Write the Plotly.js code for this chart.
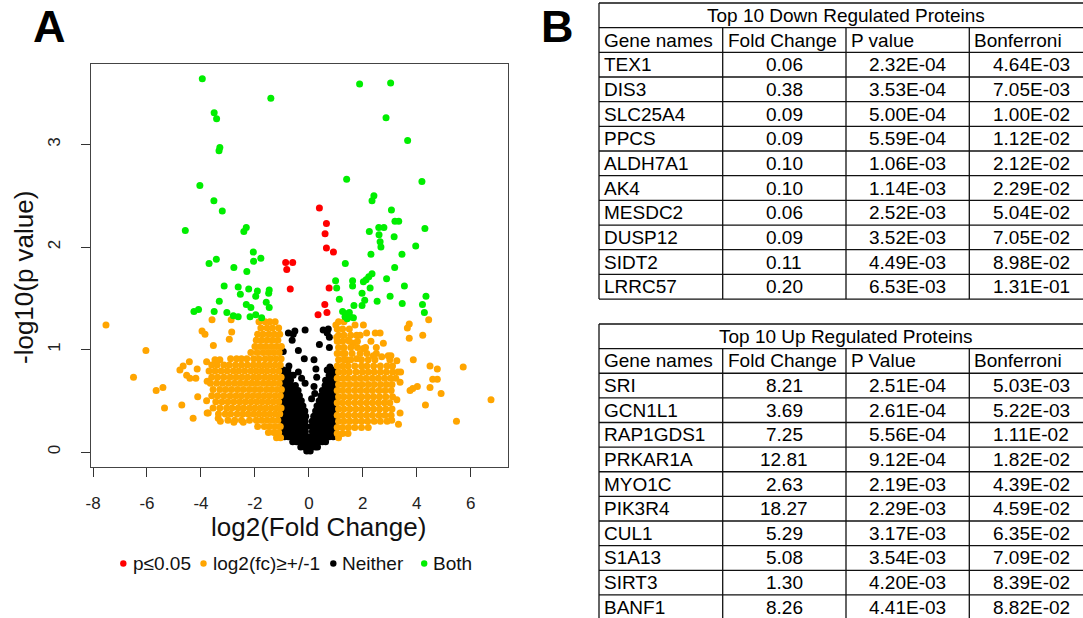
<!DOCTYPE html>
<html>
<head>
<meta charset="utf-8">
<script src="https://cdn.plot.ly/plotly-3.0.1.min.js"></script>
<style>
html,body{margin:0;padding:0;overflow:hidden;background:#fff;}
#chart{width:1100px;height:622px;}
</style>
</head>
<body>
<div id="chart"></div>
<script>
// ---------------- DATA ----------------
// "Both": p<=0.05 and |log2 fc| >= 1  (green)
const bothPts = [
[-3.95,3.64],[-1.41,3.45],[-3.51,3.31],[-3.42,3.25],[-3.30,2.97],[-3.33,2.94],[-4.04,2.60],[-3.52,2.45],[-3.21,2.35],[-4.58,2.16],[-2.32,2.19],[-2.41,2.15],[-2.06,1.95],[-3.70,1.84],[-3.43,1.88],[-2.78,1.80],[-2.05,1.86],[-1.78,1.89],[-2.30,1.76],[-3.14,1.62],[-2.62,1.61],[-2.23,1.59],[-2.54,1.54],[-1.91,1.57],[-1.97,1.52],[-1.47,1.58],[-1.49,1.55],[-3.32,1.47],[-2.32,1.44],[-2.15,1.41],[-1.58,1.46],[-1.47,1.41],[-4.26,1.37],[-4.09,1.39],[-3.51,1.37],[-3.04,1.36],[-2.80,1.33],[-2.62,1.32],[-2.18,1.32],[-1.97,1.34],[-1.75,1.31],
[1.88,3.59],[3.03,3.60],[2.86,3.26],[3.66,3.04],[1.40,2.66],[4.19,2.64],[2.41,2.50],[2.34,2.45],[3.06,2.36],[3.19,2.25],[3.33,2.25],[2.59,2.19],[2.78,2.19],[4.30,2.18],[2.24,2.15],[3.16,2.10],[2.60,2.12],[2.64,2.05],[2.67,2.00],[3.96,2.01],[2.30,1.93],[3.45,1.93],[1.35,1.84],[3.18,1.80],[2.34,1.74],[2.22,1.71],[2.12,1.68],[2.02,1.66],[2.88,1.69],[0.99,1.67],[1.03,1.60],[1.62,1.67],[1.62,1.62],[2.27,1.60],[3.54,1.62],[1.97,1.55],[2.07,1.48],[1.97,1.43],[1.13,1.49],[2.53,1.47],[3.01,1.52],[3.46,1.45],[4.34,1.52],[4.21,1.44],[4.28,1.36],[1.67,1.43],[1.25,1.37],[1.38,1.35],[1.50,1.36],[1.34,1.32],[1.52,1.32],[1.65,1.31],[1.42,1.30]
];
// "p<=0.05" only (red)
const sigPts = [
[-0.86,1.85],[-0.60,1.85],[-0.82,1.78],[-0.69,1.59],[0.39,2.38],[0.65,2.23],[0.60,2.13],[0.65,1.99],[0.91,1.95],[0.75,1.60],[0.59,1.44],[0.67,1.36],[0.34,1.34]
];
// "log2(fc) >= +/-1" only (orange)
const fcPts = [
[-7.52,1.24],[-6.04,0.99],[-6.50,0.73],[-5.66,0.60],[-5.41,0.63],[-5.35,0.43],[-4.71,0.46],[-4.29,0.33],[-4.12,0.54],[-4.43,0.88],[-4.78,0.80],[-4.66,0.84],[-4.53,0.75],[-4.41,0.72],[-4.19,0.72],[-4.14,0.81],[-3.79,0.88],[-3.77,0.69],[-3.79,0.50],[-3.77,0.38],[-3.59,1.29],[-3.96,1.18],[-3.85,1.15],[-3.54,1.04],[-2.88,1.29],[-2.86,1.17],[-2.95,1.10],[-2.68,0.91],[-3.48,0.90],[-3.36,0.33],[-3.73,0.38],[-2.78,0.29],[-2.43,0.29],[-3.28,0.30],
[-1.85,1.27],[-1.62,1.27],[-1.45,1.27],[-1.25,1.27],
[-1.78,1.21],[-1.55,1.21],[-1.35,1.21],[-1.12,1.21],
[-1.90,1.15],[-1.70,1.15],[-1.48,1.15],[-1.28,1.15],[-1.08,1.15],
[-1.95,1.09],[-1.75,1.09],[-1.55,1.09],[-1.35,1.09],[-1.15,1.09],
[-2.00,1.03],[-1.80,1.03],[-1.60,1.03],[-1.40,1.03],[-1.20,1.03],[-1.02,1.03],
[-2.15,0.97],[-1.92,0.97],[-1.70,0.97],[-1.50,0.97],[-1.30,0.97],[-1.10,0.97],
[-3.30,0.90],[-2.90,0.91],[-2.50,0.91],[-2.30,0.91],[-2.05,0.91],[-1.85,0.91],[-1.62,0.91],[-1.42,0.91],[-1.22,0.91],[-1.03,0.91],
[-3.60,0.85],[-3.40,0.85],[-3.15,0.85],[-2.95,0.85],[-2.72,0.85],[-2.50,0.85],[-2.28,0.85],[-2.06,0.85],[-1.85,0.85],[-1.65,0.85],[-1.45,0.85],[-1.25,0.85],[-1.06,0.85],
[-3.70,0.79],[-3.48,0.79],[-3.25,0.79],[-3.03,0.79],[-2.80,0.79],[-2.60,0.79],[-2.38,0.79],[-2.15,0.79],[-1.95,0.79],[-1.75,0.79],[-1.55,0.79],[-1.33,0.79],[-1.12,0.79],
[-3.60,0.73],[-3.38,0.73],[-3.15,0.73],[-2.92,0.73],[-2.70,0.73],[-2.48,0.73],[-2.27,0.73],[-2.05,0.73],[-1.85,0.73],[-1.63,0.73],[-1.43,0.73],[-1.22,0.73],[-1.03,0.73],
[-3.65,0.67],[-3.42,0.67],[-3.20,0.67],[-2.98,0.67],[-2.76,0.67],[-2.55,0.67],[-2.33,0.67],[-2.12,0.67],[-1.92,0.67],[-1.70,0.67],[-1.50,0.67],[-1.30,0.67],[-1.10,0.67],
[-3.55,0.61],[-3.30,0.61],[-3.08,0.61],[-2.86,0.61],[-2.64,0.61],[-2.43,0.61],[-2.21,0.61],[-2.00,0.61],[-1.80,0.61],[-1.58,0.61],[-1.38,0.61],[-1.18,0.61],[-1.02,0.61],
[-3.60,0.55],[-3.38,0.55],[-3.15,0.55],[-2.92,0.55],[-2.70,0.55],[-2.50,0.55],[-2.28,0.55],[-2.07,0.55],[-1.86,0.55],[-1.66,0.55],[-1.46,0.55],[-1.25,0.55],[-1.06,0.55],
[-3.45,0.49],[-3.22,0.49],[-3.00,0.49],[-2.78,0.49],[-2.56,0.49],[-2.35,0.49],[-2.14,0.49],[-1.93,0.49],[-1.73,0.49],[-1.52,0.49],[-1.32,0.49],[-1.12,0.49],
[-3.55,0.43],[-3.30,0.43],[-3.05,0.43],[-2.85,0.43],[-2.62,0.43],[-2.42,0.43],[-2.20,0.43],[-2.00,0.43],[-1.80,0.43],[-1.60,0.43],[-1.40,0.43],[-1.20,0.43],[-1.03,0.43],
[-3.35,0.37],[-3.10,0.37],[-2.90,0.37],[-2.66,0.37],[-2.45,0.37],[-2.25,0.37],[-2.05,0.37],[-1.85,0.37],[-1.65,0.37],[-1.45,0.37],[-1.25,0.37],[-1.08,0.37],
[-3.00,0.31],[-2.75,0.31],[-2.50,0.31],[-2.20,0.31],[-1.95,0.31],[-1.75,0.31],[-1.55,0.31],[-1.35,0.31],[-1.15,0.31],
[-1.90,0.25],[-1.65,0.25],[-1.45,0.25],[-1.25,0.25],[-1.06,0.25],
[-1.50,0.19],[-1.30,0.19],[-1.12,0.19],[-1.20,0.14],[-1.05,0.14],
[5.72,0.83],[6.75,0.51],[5.47,0.30],[4.49,0.84],[4.76,0.81],[4.76,0.71],[4.59,0.71],[4.49,0.63],[4.90,0.57],[4.32,0.46],[3.87,0.90],[4.02,0.64],[3.85,0.62],[3.75,0.60],[3.72,1.25],[3.65,1.21],[3.72,1.11],[4.22,1.14],[4.44,1.29],[3.26,0.89],[3.40,0.78],[3.38,0.68],[3.26,0.51],[3.38,0.38],[3.32,0.27],[3.07,0.31],[2.64,1.16],[2.76,1.06],[2.46,1.16],[2.39,0.94],[2.70,0.93],[2.94,0.94],[3.04,0.94],[1.71,1.24],[2.02,1.24],[2.14,1.16],[1.46,1.09],[1.65,1.06],[2.02,1.01],[1.77,1.14],[1.34,0.96],[1.40,0.90],[1.77,0.91],[1.00,1.24],[1.03,1.12],
[1.10,1.27],[1.30,1.27],
[1.05,1.20],[1.25,1.20],[1.50,1.20],
[1.10,1.14],[1.30,1.14],[1.55,1.14],[1.90,1.14],
[1.05,1.08],[1.25,1.08],[1.50,1.08],[1.80,1.08],[2.30,1.08],
[1.10,1.02],[1.30,1.02],[1.55,1.02],[1.80,1.02],[2.10,1.02],[2.50,1.02],
[1.05,0.96],[1.25,0.96],[1.60,0.96],[1.90,0.96],[2.15,0.96],[2.50,0.96],
[1.10,0.90],[1.30,0.90],[1.55,0.90],[1.95,0.90],[2.20,0.90],[2.45,0.90],[3.00,0.90],
[1.05,0.84],[1.25,0.84],[1.45,0.84],[1.70,0.84],[1.95,0.84],[2.15,0.84],[2.40,0.84],[2.65,0.84],[2.90,0.84],[3.10,0.84],
[1.10,0.78],[1.30,0.78],[1.50,0.78],[1.75,0.78],[1.98,0.78],[2.20,0.78],[2.42,0.78],[2.65,0.78],[2.87,0.78],[3.10,0.78],[3.30,0.78],
[1.05,0.72],[1.25,0.72],[1.45,0.72],[1.68,0.72],[1.90,0.72],[2.12,0.72],[2.35,0.72],[2.57,0.72],[2.80,0.72],[3.02,0.72],[3.22,0.72],
[1.10,0.66],[1.30,0.66],[1.52,0.66],[1.75,0.66],[1.97,0.66],[2.20,0.66],[2.42,0.66],[2.65,0.66],[2.87,0.66],[3.08,0.66],
[1.05,0.60],[1.25,0.60],[1.47,0.60],[1.70,0.60],[1.92,0.60],[2.14,0.60],[2.36,0.60],[2.60,0.60],[2.82,0.60],[3.05,0.60],
[1.10,0.54],[1.30,0.54],[1.52,0.54],[1.74,0.54],[1.96,0.54],[2.18,0.54],[2.40,0.54],[2.62,0.54],[2.85,0.54],[3.10,0.54],
[1.05,0.48],[1.25,0.48],[1.47,0.48],[1.70,0.48],[1.92,0.48],[2.14,0.48],[2.36,0.48],[2.58,0.48],[2.80,0.48],[3.00,0.48],
[1.10,0.42],[1.30,0.42],[1.52,0.42],[1.74,0.42],[1.96,0.42],[2.18,0.42],[2.40,0.42],[2.62,0.42],[2.85,0.42],[3.08,0.42],
[1.05,0.36],[1.25,0.36],[1.47,0.36],[1.70,0.36],[1.92,0.36],[2.14,0.36],[2.36,0.36],[2.60,0.36],[2.82,0.36],[3.05,0.36],
[1.10,0.30],[1.30,0.30],[1.52,0.30],[1.74,0.30],[1.96,0.30],[2.18,0.30],[2.42,0.30],[2.65,0.30],[2.90,0.30],
[1.05,0.24],[1.25,0.24],[1.47,0.24],[1.70,0.24],[1.95,0.24],[2.20,0.24],
[1.05,0.18],[1.25,0.18],[1.45,0.18],[1.10,0.14]
];
// "Neither" (black)
const neitherPts = [
[-0.76,1.16],[-0.52,1.18],[-0.58,1.15],[-0.14,1.19],[0.53,1.19],[0.72,1.20],[0.68,1.16],[-0.62,1.09],[0.39,1.05],[0.76,1.12],[0.76,1.02],[-0.95,0.98],[-0.39,0.99],[-0.17,0.91],[0.19,0.90],[-0.74,0.84],[0.26,0.81],[0.68,0.80],[0.78,0.83],[-0.39,0.78],[-0.58,0.75],[-0.27,0.72],[-0.14,0.67],[0.29,0.73],[0.19,0.64],[-0.82,0.77],[-0.89,0.68],[0.85,0.78],[0.97,0.75],[0.10,0.52],[0.22,0.57],
[-0.95,0.80],[-0.78,0.80],[0.80,0.80],[0.95,0.80],
[-0.95,0.75],[-0.80,0.75],[-0.65,0.75],[0.75,0.75],[0.92,0.75],
[-0.97,0.70],[-0.82,0.70],[-0.68,0.70],[0.62,0.70],[0.78,0.70],[0.95,0.70],
[-0.95,0.65],[-0.80,0.65],[-0.65,0.65],[-0.50,0.65],[0.60,0.65],[0.77,0.65],[0.93,0.65],
[-0.97,0.60],[-0.82,0.60],[-0.67,0.60],[-0.52,0.60],[-0.40,0.60],[0.50,0.60],[0.65,0.60],[0.80,0.60],[0.95,0.60],
[-0.95,0.55],[-0.80,0.55],[-0.65,0.55],[-0.50,0.55],[-0.35,0.55],[0.45,0.55],[0.60,0.55],[0.75,0.55],[0.90,0.55],
[-0.97,0.50],[-0.83,0.50],[-0.68,0.50],[-0.53,0.50],[-0.40,0.50],[-0.28,0.50],[0.38,0.50],[0.52,0.50],[0.67,0.50],[0.82,0.50],[0.96,0.50],
[-0.95,0.45],[-0.80,0.45],[-0.65,0.45],[-0.50,0.45],[-0.36,0.45],[-0.22,0.45],[0.30,0.45],[0.45,0.45],[0.60,0.45],[0.75,0.45],[0.90,0.45],
[-0.97,0.40],[-0.83,0.40],[-0.68,0.40],[-0.54,0.40],[-0.40,0.40],[-0.27,0.40],[-0.15,0.40],[0.25,0.40],[0.38,0.40],[0.52,0.40],[0.67,0.40],[0.82,0.40],[0.96,0.40],
[-0.95,0.35],[-0.80,0.35],[-0.66,0.35],[-0.52,0.35],[-0.38,0.35],[-0.24,0.35],[-0.12,0.35],[0.18,0.35],[0.32,0.35],[0.46,0.35],[0.60,0.35],[0.75,0.35],[0.90,0.35],
[-0.97,0.30],[-0.83,0.30],[-0.69,0.30],[-0.55,0.30],[-0.41,0.30],[-0.27,0.30],[-0.14,0.30],[0.12,0.30],[0.25,0.30],[0.40,0.30],[0.54,0.30],[0.68,0.30],[0.83,0.30],[0.97,0.30],
[-0.95,0.25],[-0.80,0.25],[-0.66,0.25],[-0.52,0.25],[-0.38,0.25],[-0.24,0.25],[-0.10,0.25],[0.10,0.25],[0.22,0.25],[0.36,0.25],[0.50,0.25],[0.64,0.25],[0.78,0.25],[0.92,0.25],
[-0.97,0.20],[-0.83,0.20],[-0.69,0.20],[-0.55,0.20],[-0.41,0.20],[-0.27,0.20],[-0.13,0.20],[0.13,0.20],[0.27,0.20],[0.41,0.20],[0.55,0.20],[0.69,0.20],[0.83,0.20],[0.97,0.20],
[-0.90,0.15],[-0.76,0.15],[-0.62,0.15],[-0.48,0.15],[-0.34,0.15],[-0.20,0.15],[-0.07,0.15],[0.07,0.15],[0.20,0.15],[0.34,0.15],[0.48,0.15],[0.62,0.15],[0.76,0.15],[0.90,0.15],
[-0.60,0.10],[-0.46,0.10],[-0.32,0.10],[-0.18,0.10],[-0.05,0.10],[0.08,0.10],[0.22,0.10],[0.36,0.10],[0.50,0.10],[0.62,0.10],
[-0.30,0.05],[-0.16,0.05],[-0.03,0.05],[0.10,0.05],[0.24,0.05],[0.32,0.05],
[-0.08,0.01],[0.05,0.01]
];

const xTicks = [-8,-6,-4,-2,0,2,4,6];
const xTickText = ["-8","-6","-4","-2","0","2","4","6"];
const yTicks = [0,1,2,3];
const legendLabels = ["p\u22640.05", "log2(fc)\u2265+/-1", "Neither", "Both"];

const tableColsDown = ["Gene names", "Fold Change", "P value", "Bonferroni"];
const tableColsUp = ["Gene names", "Fold Change", "P Value", "Bonferroni"];
const downTitle = "Top 10 Down Regulated Proteins";
const upTitle = "Top 10 Up Regulated Proteins";
const downGenes = ["TEX1","DIS3","SLC25A4","PPCS","ALDH7A1","AK4","MESDC2","DUSP12","SIDT2","LRRC57"];
const downFC = ["0.06","0.38","0.09","0.09","0.10","0.10","0.06","0.09","0.11","0.20"];
const downP = ["2.32E-04","3.53E-04","5.00E-04","5.59E-04","1.06E-03","1.14E-03","2.52E-03","3.52E-03","4.49E-03","6.53E-03"];
const downBonf = ["4.64E-03","7.05E-03","1.00E-02","1.12E-02","2.12E-02","2.29E-02","5.04E-02","7.05E-02","8.98E-02","1.31E-01"];
const upGenes = ["SRI","GCN1L1","RAP1GDS1","PRKAR1A","MYO1C","PIK3R4","CUL1","S1A13","SIRT3","BANF1"];
const upFC = ["8.21","3.69","7.25","12.81","2.63","18.27","5.29","5.08","1.30","8.26"];
const upP = ["2.51E-04","2.61E-04","5.56E-04","9.12E-04","2.19E-03","2.29E-03","3.17E-03","3.54E-03","4.20E-03","4.41E-03"];
const upBonf = ["5.03E-03","5.22E-03","1.11E-02","1.82E-02","4.39E-02","4.59E-02","6.35E-02","7.09E-02","8.39E-02","8.82E-02"];

// ---------------- LAYOUT HELPERS ----------------
const W = 1100, H = 622;
const px = v => v / W;
const py = v => 1 - v / H;
const FONT = "Liberation Sans, Arial, Helvetica, sans-serif";
const COLORS = {sig:"#ff0000", fc:"#ffa500", neither:"#000000", both:"#00ee00"};

function scat(pts, color, name){
  return {type:"scatter", mode:"markers", name:name,
    x: pts.map(p=>p[0]), y: pts.map(p=>p[1]),
    marker:{color:color, size:7, line:{width:0}},
    xaxis:"x", yaxis:"y", showlegend:false, hoverinfo:"x+y"};
}
const traces = [
  scat(neitherPts, COLORS.neither, legendLabels[2]),
  scat(fcPts, COLORS.fc, legendLabels[1]),
  scat(sigPts, COLORS.sig, legendLabels[0]),
  scat(bothPts, COLORS.both, legendLabels[3])
];

const shapes = [];
const annotations = [];

// ---------------- TABLES (row/column axes) ----------------
// table axes: x in column-width units, y in row units (0 = title row top)
const colW = [123.7, 123.3, 123.3, 123.7];
const colEdges = colW.reduce((a,w)=>{a.push(a[a.length-1]+w); return a;}, [0]);
const ROWH = 24.67, NROWS = 12, PAD = 0.1;
const TX0 = 599;

function addTable(ax, title, cols, columns){
  const xr = "x"+ax, yr = "y"+ax;
  // grid lines
  for(let r=0; r<=NROWS; r++){
    shapes.push({type:"line", xref:xr, yref:yr, x0:0, x1:colEdges[4], y0:r, y1:r,
      line:{color:"#111", width:1.3}});
  }
  colEdges.forEach((e,i)=>{
    const top = (i===0 || i===4) ? 0 : 1;
    shapes.push({type:"line", xref:xr, yref:yr, x0:e, x1:e, y0:top, y1:NROWS,
      line:{color:"#111", width:1.3}});
  });
  // title row
  annotations.push({xref:xr, yref:yr, x:colEdges[4]/2, y:0.5, xanchor:"center", yanchor:"middle",
    showarrow:false, text:title, font:{family:FONT, size:19, color:"#000"}});
  // header row
  cols.forEach((c,i)=>annotations.push({xref:xr, yref:yr, x:colEdges[i]+3, y:1.5,
    xanchor:"left", yanchor:"middle", showarrow:false, text:c,
    font:{family:FONT, size:19, color:"#000"}}));
  // body
  columns.forEach((vals,i)=>{
    vals.forEach((v,r)=>{
      const left = (i===0);
      annotations.push({xref:xr, yref:yr,
        x: left ? colEdges[i]+3 : (colEdges[i]+colEdges[i+1])/2, y:r+2.5,
        xanchor: left ? "left" : "center", yanchor:"middle", showarrow:false, text:v,
        font:{family:FONT, size:19, color:"#000"}});
    });
  });
}
function tableAxes(top){
  const xa = {domain:[px(TX0-2), px(TX0+colEdges[4]+2)], range:[-2, colEdges[4]+2],
    visible:false, fixedrange:true};
  const ya = {domain:[py(top + (NROWS+PAD)*ROWH), py(top - PAD*ROWH)],
    range:[NROWS+PAD, -PAD], visible:false, fixedrange:true};
  return [xa, ya];
}
addTable(2, downTitle, tableColsDown, [downGenes, downFC, downP, downBonf]);
addTable(3, upTitle, tableColsUp, [upGenes, upFC, upP, upBonf]);
const [xa2, ya2] = tableAxes(3);
const [xa3, ya3] = tableAxes(324);
xa2.anchor = "y2"; ya2.anchor = "x2";
xa3.anchor = "y3"; ya3.anchor = "x3";

// ---------------- LEGEND ----------------
const legendDotX = [123.3, 203.5, 333.3, 424.2];
const legendTextX = [131.5, 211.5, 341.5, 431.5];
const legendColors = [COLORS.sig, COLORS.fc, COLORS.neither, COLORS.both];
const legY = 563.5;
legendDotX.forEach((cx,i)=>shapes.push({type:"circle", xref:"paper", yref:"paper",
  x0:px(cx-3.2), x1:px(cx+3.2), y0:py(legY+3.2), y1:py(legY-3.2),
  fillcolor:legendColors[i], line:{width:0}}));
legendLabels.forEach((t,i)=>annotations.push({xref:"paper", yref:"paper",
  x:px(legendTextX[i]), y:py(legY), xanchor:"left", yanchor:"middle", showarrow:false,
  text:t, borderpad:0, font:{family:FONT, size:19, color:"#111"}}));

// axis titles and panel letters
annotations.push({xref:"paper", yref:"paper", x:px(318.5), y:py(527), xanchor:"center", yanchor:"middle",
  showarrow:false, text:"log2(Fold Change)", font:{family:FONT, size:26, color:"#111"}});
annotations.push({xref:"paper", yref:"paper", x:px(24), y:py(278), xanchor:"center", yanchor:"middle",
  showarrow:false, textangle:-90, text:"-log10(p value)", font:{family:FONT, size:26, color:"#111"}});
annotations.push({xref:"paper", yref:"paper", x:px(31), y:py(26.5), xanchor:"left", yanchor:"middle",
  showarrow:false, text:"<b>A</b>", font:{family:FONT, size:45, color:"#000"}});
annotations.push({xref:"paper", yref:"paper", x:px(539), y:py(26.5), xanchor:"left", yanchor:"middle",
  showarrow:false, text:"<b>B</b>", font:{family:FONT, size:45, color:"#000"}});

const layout = {
  width:W, height:H, margin:{l:0,r:0,t:0,b:0},
  paper_bgcolor:"#fff", plot_bgcolor:"#fff", showlegend:false,
  xaxis:{domain:[px(90.6), px(508)], range:[-8.09, 7.38], tickvals:xTicks, ticktext:xTickText,
    ticks:"outside", ticklen:9, tickwidth:1, tickcolor:"#333",
    showline:true, linecolor:"#444", linewidth:1, mirror:true,
    showgrid:false, zeroline:false, ticklabelstandoff:12,
    tickfont:{family:FONT, size:17, color:"#222"}, anchor:"y"},
  yaxis:{domain:[py(466.7), py(64)], range:[-0.143, 3.785], tickvals:yTicks,
    ticks:"outside", ticklen:9, tickwidth:1, tickcolor:"#333",
    showline:true, linecolor:"#444", linewidth:1, mirror:true,
    showgrid:false, zeroline:false, tickangle:-90, ticklabelstandoff:14,
    tickfont:{family:FONT, size:17, color:"#222"}, anchor:"x"},
  xaxis2:xa2, yaxis2:ya2, xaxis3:xa3, yaxis3:ya3,
  shapes:shapes, annotations:annotations
};

Plotly.newPlot("chart", traces, layout, {displayModeBar:false, staticPlot:true});
</script>
</body>
</html>
